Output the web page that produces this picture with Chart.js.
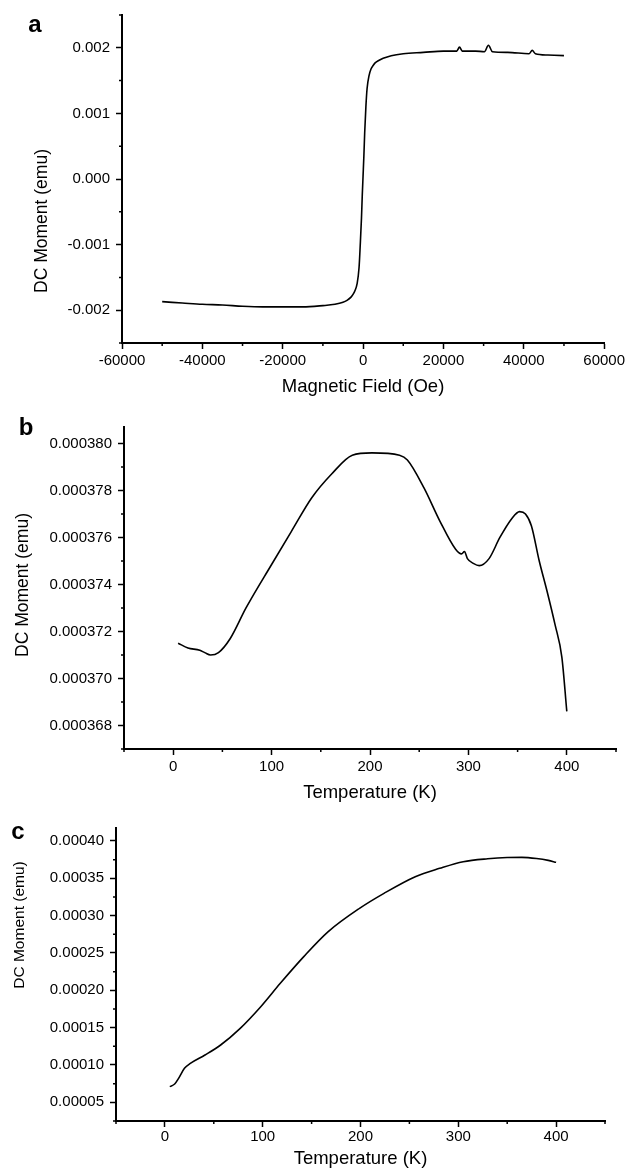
<!DOCTYPE html>
<html>
<head>
<meta charset="utf-8">
<script src="https://cdn.jsdelivr.net/npm/chart.js@4.4.1/dist/chart.umd.min.js"></script>
<style>
  body { margin: 0; background: #fff; }
  canvas { position: absolute; left: 0; }
</style>
</head>
<body>
<canvas id="chartA" width="628" height="400" style="top:0"></canvas>
<canvas id="chartB" width="628" height="410" style="top:400px"></canvas>
<canvas id="chartC" width="628" height="360" style="top:810px"></canvas>
<script>
// (a) moment vs field
const fieldOe = [-50000, -45000, -40000, -35000, -30000, -25000, -20000, -15000, -10000, -7000,
  -5000, -4000, -3000, -2500, -2000, -1500, -1000, -700, -400, -200, 0, 200, 400, 700, 1000,
  1500, 2000, 2500, 3000, 4000, 5000, 7000, 10000, 15000, 20000, 23300, 24000, 24700, 28000,
  30200, 31200, 32200, 36000, 41300, 42100, 42900, 46000, 50000];
const momentA = [-0.00187, -0.00189, -0.00191, -0.00192, -0.00194, -0.00195, -0.00195, -0.00195,
  -0.00193, -0.00191, -0.00188, -0.00185, -0.00180, -0.00176, -0.00170, -0.00160, -0.00135,
  -0.00100, -0.00060, -0.00025, 0.00005, 0.00035, 0.00070, 0.00110, 0.00138, 0.00158, 0.00168,
  0.00173, 0.00177, 0.00181, 0.00184, 0.00188, 0.00191, 0.00193, 0.00195, 0.00195, 0.00201,
  0.00195, 0.00195, 0.00194, 0.00204, 0.00194, 0.00193, 0.00191, 0.00196, 0.00191, 0.00189, 0.00188];
const fieldTicks = [-60000, -40000, -20000, 0, 20000, 40000, 60000];
const fieldMinor = [-50000, -30000, -10000, 10000, 30000, 50000];
const momentATicks = [-0.002, -0.001, 0, 0.001, 0.002];
const momentAMinor = [-0.0025, -0.0015, -0.0005, 0.0005, 0.0015, 0.0025];

// (b) moment vs temperature
const tempB = [5, 15, 27, 32, 38, 46, 58, 74, 100, 120, 141, 161, 182, 202, 230, 238, 255, 271,
  287, 293, 296, 299, 305, 311, 321, 332, 344, 352, 358, 364, 372, 380, 388, 395, 400];
const momentB = [0.0003715, 0.0003713, 0.0003712, 0.0003711, 0.0003710, 0.0003711, 0.0003717,
  0.0003730, 0.00037485, 0.00037625, 0.0003777, 0.0003787, 0.0003795, 0.0003796, 0.0003795,
  0.0003793, 0.0003781, 0.0003767, 0.0003755, 0.0003753, 0.0003754, 0.0003751, 0.0003749,
  0.0003748, 0.0003751, 0.0003760, 0.0003768, 0.0003771, 0.0003770, 0.0003765, 0.0003750,
  0.0003737, 0.0003723, 0.0003709, 0.0003686];
const tempTicks = [0, 100, 200, 300, 400];
const tempMinor = [-50, 50, 150, 250, 350, 450];
const momentBTicks = [0.000368, 0.000370, 0.000372, 0.000374, 0.000376, 0.000378, 0.000380];
const momentBMinor = [0.000367, 0.000369, 0.000371, 0.000373, 0.000375, 0.000377, 0.000379];

// (c) moment vs temperature
const tempC = [5, 10, 14, 20, 26, 41, 57, 77, 98, 118, 142, 167, 199, 224, 256, 281, 305, 330,
  350, 365, 380, 392, 400];
const momentC = [0.0000710, 0.0000745, 0.0000821, 0.0000955, 0.0001022, 0.0001134, 0.0001268,
  0.0001491, 0.0001781, 0.0002094, 0.0002451, 0.0002786, 0.0003098, 0.0003299, 0.0003522,
  0.0003634, 0.0003723, 0.0003762, 0.0003778, 0.0003780, 0.0003765, 0.0003740, 0.0003714];
const momentCTicks = [0.00005, 0.00010, 0.00015, 0.00020, 0.00025, 0.00030, 0.00035, 0.00040];
const momentCMinor = [0.000025, 0.000075, 0.000125, 0.000175, 0.000225, 0.000275, 0.000325, 0.000375];

Chart.defaults.font.family = '"Liberation Sans", Arial, sans-serif';
Chart.defaults.color = '#000';

// minor ticks, panel letter and the y title (which sits off-centre in the original)
const panelDecor = {
  id: 'panelDecor',
  afterDraw(chart, args, opts) {
    const ctx = chart.ctx;
    const xs = chart.scales.x;
    const ys = chart.scales.y;
    ctx.save();
    ctx.strokeStyle = '#000';
    ctx.lineWidth = 1.5;
    ctx.beginPath();
    opts.xMinor.forEach(v => {
      const px = xs.getPixelForValue(v);
      ctx.moveTo(px, xs.top);
      ctx.lineTo(px, xs.top + 3);
    });
    opts.yMinor.forEach(v => {
      const py = ys.getPixelForValue(v);
      ctx.moveTo(ys.right, py);
      ctx.lineTo(ys.right - 3, py);
    });
    ctx.stroke();

    ctx.fillStyle = '#000';
    ctx.textAlign = 'center';
    ctx.textBaseline = 'alphabetic';
    ctx.font = 'bold 24px "Liberation Sans", Arial, sans-serif';
    ctx.fillText(opts.letter, opts.letterX, opts.letterY);

    ctx.font = opts.yTitleSize + 'px "Liberation Sans", Arial, sans-serif';
    ctx.translate(opts.yTitleX, opts.yTitleY);
    ctx.rotate(-Math.PI / 2);
    ctx.textBaseline = 'middle';
    ctx.fillText(opts.yTitle, 0, 0);
    ctx.restore();
  }
};

function makePanel(id, p) {
  return new Chart(document.getElementById(id), {
    type: 'line',
    data: {
      datasets: [{
        data: p.xs.map((x, i) => ({ x: x, y: p.ys[i] })),
        borderColor: '#000',
        borderWidth: 1.6,
        pointRadius: 0,
        fill: false,
        cubicInterpolationMode: 'monotone'
      }]
    },
    options: {
      responsive: false,
      animation: false,
      layout: { padding: p.padding },
      plugins: {
        legend: { display: false },
        tooltip: { enabled: false },
        panelDecor: p.decor
      },
      scales: {
        x: {
          type: 'linear',
          min: p.xMin,
          max: p.xMax,
          afterFit: s => { s.height = p.xHeight; },
          afterBuildTicks: s => { s.ticks = p.xTicks.map(v => ({ value: v })); },
          grid: { drawOnChartArea: false, tickLength: 6, tickColor: '#000', tickWidth: 1.5 },
          border: { color: '#000', width: 2 },
          ticks: { font: { size: 15 }, padding: p.xTickPad, maxRotation: 0, autoSkip: false,
            callback: v => String(v) },
          title: { display: true, text: p.xTitle, font: { size: 18.5 },
            padding: { top: 0, bottom: p.xTitlePad } }
        },
        y: {
          min: p.yMin,
          max: p.yMax,
          afterFit: s => { s.width = p.yWidth; },
          afterBuildTicks: s => { s.ticks = p.yTicks.map(v => ({ value: v })); },
          grid: { drawOnChartArea: false, tickLength: 6, tickColor: '#000', tickWidth: 1.5 },
          border: { color: '#000', width: 2 },
          ticks: { font: { size: 15 }, padding: 6, autoSkip: false,
            callback: v => v.toFixed(p.yDigits) }
        }
      }
    },
    plugins: [panelDecor]
  });
}

makePanel('chartA', {
  xs: fieldOe, ys: momentA,
  xMin: -60000, xMax: 60000, yMin: -0.0025, yMax: 0.0025,
  xTicks: fieldTicks, yTicks: momentATicks, yDigits: 3,
  padding: { left: 0, top: 14, right: 22, bottom: 0 },
  yWidth: 122, xHeight: 57, xTickPad: 3, xTitlePad: 2,
  xTitle: 'Magnetic Field (Oe)',
  decor: { xMinor: fieldMinor, yMinor: momentAMinor, letter: 'a', letterX: 35, letterY: 32,
    yTitle: 'DC Moment (emu)', yTitleX: 42, yTitleY: 221, yTitleSize: 17.5 }
});

makePanel('chartB', {
  xs: tempB, ys: momentB,
  xMin: -50, xMax: 450, yMin: 0.000367, yMax: 0.0003807,
  xTicks: tempTicks, yTicks: momentBTicks, yDigits: 6,
  padding: { left: 0, top: 27, right: 12, bottom: 0 },
  yWidth: 124, xHeight: 61, xTickPad: 3, xTitlePad: 6,
  xTitle: 'Temperature (K)',
  decor: { xMinor: tempMinor, yMinor: momentBMinor, letter: 'b', letterX: 26, letterY: 35,
    yTitle: 'DC Moment (emu)', yTitleX: 23, yTitleY: 185, yTitleSize: 17.5 }
});

makePanel('chartC', {
  xs: tempC, ys: momentC,
  xMin: -50, xMax: 450, yMin: 0.000025, yMax: 0.0004174,
  xTicks: tempTicks, yTicks: momentCTicks, yDigits: 5,
  padding: { left: 0, top: 18, right: 23, bottom: 0 },
  yWidth: 116, xHeight: 49, xTickPad: 1, xTitlePad: 0,
  xTitle: 'Temperature (K)',
  decor: { xMinor: tempMinor, yMinor: momentCMinor, letter: 'c', letterX: 18, letterY: 29,
    yTitle: 'DC Moment (emu)', yTitleX: 19.5, yTitleY: 115, yTitleSize: 15.5 }
});
</script>
</body>
</html>
